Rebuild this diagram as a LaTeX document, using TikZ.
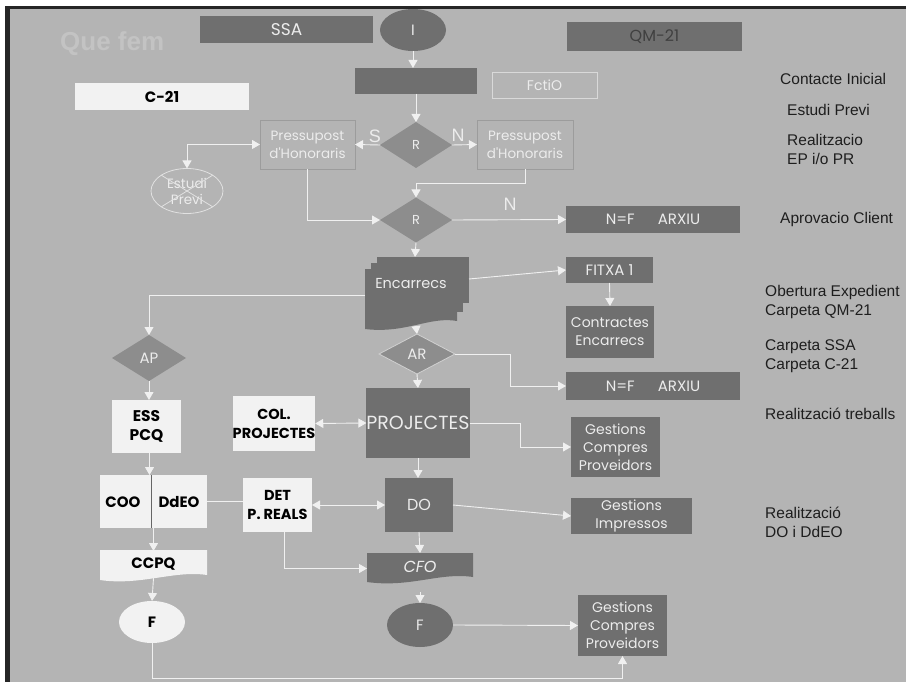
\documentclass[tikz,border=0pt]{standalone}
\usepackage{fontspec}
\setmainfont{Liberation Sans}
\newfontfamily\comic{Poppins}
\usetikzlibrary{shapes.geometric,arrows.meta,calc}
\definecolor{bgc}{HTML}{B4B4B4}
\definecolor{dkc}{HTML}{6F6F6F}
\definecolor{dic}{HTML}{8D8D8D}
\definecolor{whc}{HTML}{F2F2F2}
\definecolor{ltc}{HTML}{ECECEC}
\definecolor{lnc}{HTML}{F0F0F0}
\definecolor{olc}{HTML}{9C9C9C}
\definecolor{txc}{HTML}{1E1E1E}
\begin{document}
\begin{tikzpicture}[x=1pt,y=-1pt,
  base/.style={inner sep=0pt, outer sep=0pt, align=center},
  dk/.style={base, fill=dkc, text=ltc, font=\comic\fontsize{14}{18}\selectfont},
  wh/.style={base, fill=whc, text=black, font=\comic\bfseries\fontsize{14.5}{19}\selectfont},
  ol/.style={base, draw=olc, line width=0.8pt, text=ltc, font=\comic\fontsize{13.5}{18}\selectfont},
  dia/.style={base, diamond, fill=dic, text=ltc, font=\comic\fontsize{13}{16}\selectfont},
  ell/.style={base, ellipse},
  lbl/.style={inner sep=0pt, anchor=west, align=left, text=txc, font=\fontsize{15.5}{19}\selectfont},
  yn/.style={inner sep=0pt, text=ltc, font=\fontsize{18}{20}\selectfont},
  con/.style={draw=lnc, line width=0.9pt},
  arr/.style={con, -{Triangle[length=8pt,width=9pt]}},
  darr/.style={con, {Triangle[length=8pt,width=9pt]}-{Triangle[length=8pt,width=9pt]}}
]
\useasboundingbox (0,0) rectangle (906,682);
\fill[white] (0,0) rectangle (906,682);
\fill[black!85] (5,6) rectangle (906,682);
\fill[bgc] (10,9) rectangle (906,682);

% title
\node[inner sep=0pt, anchor=west, text=bgc!80!white, font=\bfseries\fontsize{26}{28}\selectfont] (title) at (60,44) {Que fem};

% top row
\node[dk, minimum width=173pt, minimum height=27pt, font=\comic\fontsize{17}{18}\selectfont] (ssa) at (286.5,29.5) {SSA};
\node[ell, fill=dkc, text=ltc, minimum width=66pt, minimum height=42pt, font=\comic\fontsize{15}{16}\selectfont] (iell) at (413,30) {I};
\node[dk, minimum width=175pt, minimum height=29pt, text=black!75, font=\comic\fontsize{16}{17}\selectfont] (qm) at (654.5,36.5) {QM-21};
\node[dk, minimum width=122pt, minimum height=26pt] (blank) at (416,81) {};
\node[ol, draw=white!50!bgc, minimum width=105pt, minimum height=26pt, font=\comic\fontsize{14}{16}\selectfont] (fctio) at (544.5,85) {FctiO};
\node[wh, minimum width=174pt, minimum height=27pt, font=\comic\bfseries\fontsize{15}{16}\selectfont] (c21) at (162,96.5) {C-21};

% first decision
\node[dia, minimum width=72pt, minimum height=46pt] (r1) at (416,145) {R};
\node[ol, minimum width=95pt, minimum height=49pt] (pl) at (307.5,144.5) {Pressupost\\d'Honoraris};
\node[ol, minimum width=96pt, minimum height=49pt] (pr) at (525,144.5) {Pressupost\\d'Honoraris};
\node[yn] (s) at (375,136) {S};
\node[yn] (n1) at (458,135) {N};
\node[ell, draw=white!60!bgc, line width=0.8pt, minimum width=72pt, minimum height=45pt, text=ltc, font=\comic\fontsize{13.5}{16}\selectfont] (ep) at (187,191) {Estudi\\Previ};
\draw[white!60!bgc, line width=0.8pt] ($(ep.center)+(-26,-16)$) -- ($(ep.center)+(26,16)$);
\draw[white!60!bgc, line width=0.8pt] ($(ep.center)+(-26,16)$) -- ($(ep.center)+(26,-16)$);

% second decision
\node[dia, minimum width=72pt, minimum height=45pt] (r2) at (416,220) {R};
\node[yn] (n2) at (510,204) {N};
\node[dk, minimum width=174pt, minimum height=27pt, font=\comic\fontsize{15}{16}\selectfont] (arx1) at (653,219.5) {N=F\quad\ \ ARXIU};

% Encarrecs multi-document
\fill[dkc] (377,257) -- (469,257) -- (469,303) -- (377,303) -- cycle;
\fill[dkc] (371,263) -- (463,263) -- (463,312) -- (371,312) -- cycle;
\fill[dkc] (365,269) -- (457,269) -- (457,321) .. controls (430,316) and (405,334) .. (365,329) -- cycle;
\node[base, text=ltc, font=\comic\fontsize{14.5}{16}\selectfont] (enc) at (411,284) {Encarrecs};
\coordinate (encT) at (415,257);
\coordinate (encL) at (365,295);
\coordinate (encR) at (469,279);
\coordinate (encB) at (416,326);

\node[dk, minimum width=87pt, minimum height=26pt, font=\comic\fontsize{15}{16}\selectfont] (fitxa) at (609.5,270) {FITXA 1};
\node[dk, minimum width=88pt, minimum height=52pt] (contr) at (610,332) {Contractes\\Encarrecs};
\node[dia, draw=white!60!dic, line width=0.8pt, minimum width=76pt, minimum height=40pt, font=\comic\fontsize{15}{16}\selectfont] (ar) at (417,354) {AR};
\node[dk, minimum width=174pt, minimum height=28pt, font=\comic\fontsize{15}{16}\selectfont] (arx2) at (653,386) {N=F\quad\ \ ARXIU};
\node[dia, minimum width=74pt, minimum height=46pt, font=\comic\fontsize{15}{16}\selectfont] (ap) at (149,358) {AP};

% projects row
\node[dk, minimum width=100pt, minimum height=70pt, font=\comic\fontsize{19}{20}\selectfont] (proj) at (418,423) {PROJECTES};
\node[wh, minimum width=68pt, minimum height=55pt] (col) at (274,423.5) {COL.\\PROJECTES};
\node[dk, minimum width=89pt, minimum height=60pt] (g1) at (615.5,447) {Gestions\\Compres\\Proveidors};
\node[wh, minimum width=69pt, minimum height=53pt, font=\comic\bfseries\fontsize{15.5}{19}\selectfont] (ess) at (146.5,426.5) {ESS\\PCQ};

% DO row
\node[wh, minimum width=107pt, minimum height=53pt] (coo) at (153.5,501.5) {};
\draw[black!60, line width=0.8pt] (151,475) -- (151,528);
\node[base, font=\comic\bfseries\fontsize{15}{16}\selectfont] (cootx) at (123,502) {COO};
\node[base, font=\comic\bfseries\fontsize{15}{16}\selectfont] (ddeotx) at (179,502) {DdEO};
\node[wh, minimum width=69pt, minimum height=54pt] (det) at (277.5,505) {DET\\P. REALS};
\node[dk, minimum width=68pt, minimum height=54pt, font=\comic\fontsize{16}{17}\selectfont] (do) at (419,505) {DO};
\node[dk, minimum width=121pt, minimum height=36pt] (gi) at (631.5,516) {Gestions\\Impressos};

% CFO and CCPQ (document shapes)
\fill[dkc] (367,553) -- (473,553) -- (473,577) .. controls (440,572) and (410,588) .. (367,582) -- cycle;
\node[base, minimum width=106pt, minimum height=27pt, text=ltc, font=\comic\itshape\fontsize{16}{17}\selectfont] (cfo) at (420,566.5) {CFO};
\fill[whc] (100,550) -- (207,550) -- (207,575) .. controls (175,570) and (140,586) .. (100,580) -- cycle;
\node[base, minimum width=107pt, minimum height=26pt, font=\comic\bfseries\fontsize{15}{16}\selectfont] (ccpq) at (153.5,564) {CCPQ};

% ends
\node[ell, fill=whc, minimum width=66pt, minimum height=42pt, font=\comic\bfseries\fontsize{15}{16}\selectfont] (fw) at (152,622) {F};
\node[ell, fill=dkc, text=ltc, minimum width=66pt, minimum height=44pt, font=\comic\fontsize{15}{16}\selectfont] (fd) at (420,625) {F};
\node[dk, minimum width=89pt, minimum height=61pt] (g3) at (622.5,625.5) {Gestions\\Compres\\Proveidors};

% right labels
\node[lbl] (l1) at (780,79) {Contacte Inicial};
\node[lbl] (l2) at (787,110) {Estudi Previ};
\node[lbl] (l3) at (787,149) {Realitzacio\\EP i/o PR};
\node[lbl] (l4) at (780,219) {Aprovacio Client};
\node[lbl] (l5) at (765,302) {Obertura Expedient\\Carpeta QM-21};
\node[lbl] (l6) at (765,356) {Carpeta SSA\\Carpeta C-21};
\node[lbl] (l7) at (765,414) {Realització treballs};
\node[lbl] (l8) at (765,522) {Realització\\DO i DdEO};

% connectors
\draw[arr] (iell.south) -- (iell.south |- blank.north);
\draw[arr] (blank.south) -- (r1.north);
\draw[arr] (r1.west) -- (pl.east);
\draw[arr] (r1.east) -- (pr.west);
\draw[darr] (ep.north) |- (pl.west);
\draw[arr] (pl.south) |- (r2.west);
\draw[arr] (pr.south) -- ++(0,14) -| (r2.north);
\draw[arr] (r2.east) -- (arx1.west);
\draw[arr] (r2.south) -- (encT);
\draw[arr] (encL) -| (ap.north);
\draw[arr] (encR) -- (fitxa.west);
\draw[arr] (fitxa.south) -- (contr.north);
\draw[arr] (encB) -- (ar.north);
\draw[arr] (ar.east) -- ++(55,0) |- (arx2.west);
\draw[arr] (ar.south) -- (proj.north);
\draw[darr] (col.east) -- (proj.west);
\draw[arr] (proj.east) -- ++(51,0) |- (g1.west);
\draw[arr] (ap.south) -- (ap.south |- ess.north);
\draw[arr] (ess.south) ++(3,0) -- ($(ess.south |- coo.north)+(3,0)$);
\draw[con] (coo.east) -- (coo.east -| det.west);
\draw[darr] (det.east) -- (do.west);
\draw[arr] (proj.south) -- (proj.south |- do.north);
\draw[arr] (do.east) -- (gi.west);
\draw[arr] (do.south) -- (cfo.north);
\draw[arr] ($(det.south)+(7,0)$) |- ($(cfo.west)+(0,2)$);
\draw[arr] (cfo.south) ++(0,12) -- (fd.north);
\draw[arr] (fd.east) -- (g3.west);
\draw[arr] (coo.south) -- (ccpq.north);
\draw[arr] (ccpq.south) ++(0,1) -- (fw.north);
\draw[arr] (fw.south) -- ++(0,35) -| (g3.south);
\end{tikzpicture}
\end{document}
